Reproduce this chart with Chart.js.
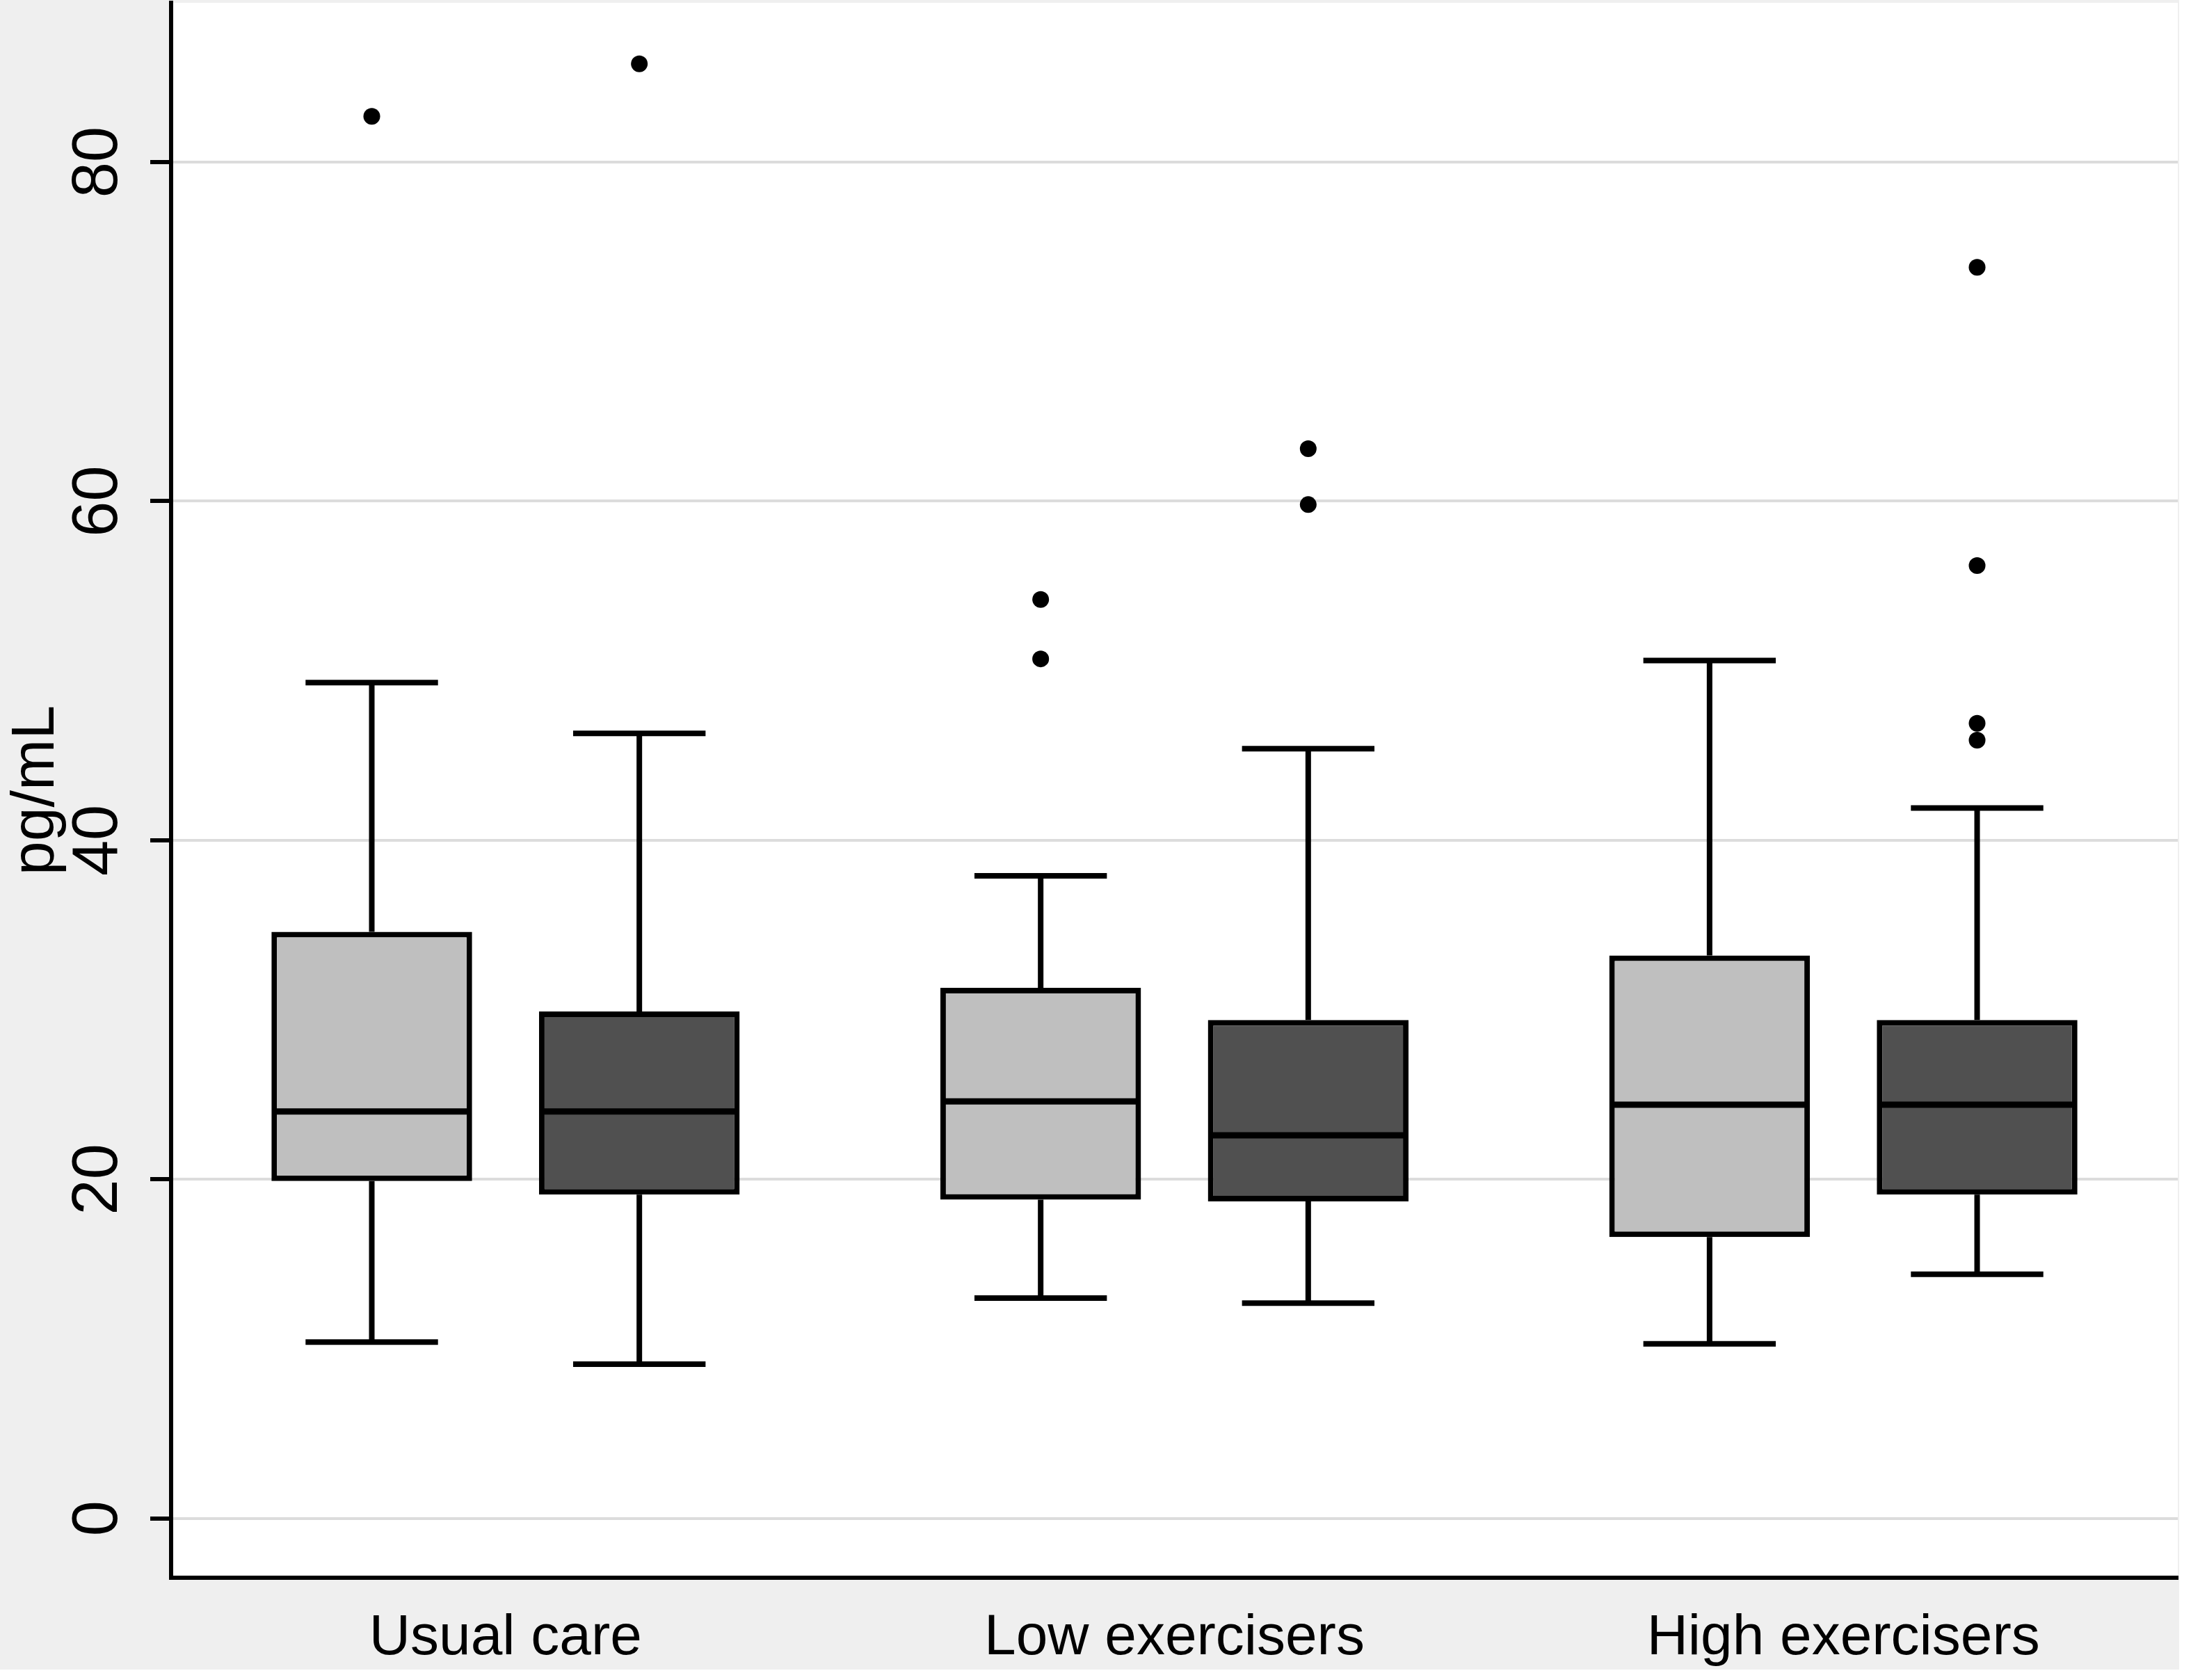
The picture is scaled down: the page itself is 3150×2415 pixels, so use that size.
<!DOCTYPE html>
<html>
<head>
<meta charset="utf-8">
<title>pg/mL box plot</title>
<script src="https://cdn.jsdelivr.net/npm/chart.js@4"></script>
<style>
    html, body { margin: 0; padding: 0; background: #ffffff; }
    #wrap { width: 3150px; height: 2415px; }
</style>
</head>
<body>
<div id="wrap"><canvas id="boxChart" width="3150" height="2415"></canvas></div>
<script>
// 分组与刻度
const groups = ['Usual care', 'Low exercisers', 'High exercisers'];
const yTicks = [0, 20, 40, 60, 80];

// 浅色箱体（每组左侧）
const lightLow = [10.4, 13.0, 10.3];
const lightQ1 = [19.9, 18.8, 16.6];
const lightMedian = [24.0, 24.6, 24.4];
const lightQ3 = [34.6, 31.3, 33.2];
const lightHigh = [49.3, 37.9, 50.6];
const lightOutliers = [[82.7], [54.2, 50.7], []];

// 深色箱体（每组右侧）
const darkLow = [9.1, 12.7, 14.4];
const darkQ1 = [19.1, 18.7, 19.1];
const darkMedian = [24.0, 22.6, 24.4];
const darkQ3 = [29.9, 29.4, 29.4];
const darkHigh = [46.3, 45.4, 41.9];
const darkOutliers = [[85.8], [63.1, 59.8], [73.8, 56.2, 46.9, 45.9]];

const FONT = "'Liberation Sans', Arial, Helvetica, sans-serif";

// 每个数据集对应的箱线统计
const boxStats = [
    { low: lightLow, median: lightMedian, high: lightHigh, outliers: lightOutliers },
    { low: darkLow, median: darkMedian, high: darkHigh, outliers: darkOutliers }
];

/**
 * 绘制背景、须线、中位线和离群点
 */
const boxPartsPlugin = {
    id: 'boxParts',
    beforeDraw(chart) {
        const ctx = chart.ctx;
        const a = chart.chartArea;
        ctx.save();
        ctx.fillStyle = '#ffffff';
        ctx.fillRect(0, 0, chart.width, chart.height);
        ctx.fillStyle = '#efefef';
        ctx.fillRect(0, 0, chart.width - 17, chart.height - 15);
        ctx.fillStyle = '#ffffff';
        ctx.fillRect(a.left, a.top, a.right - a.left, a.bottom - a.top);
        ctx.restore();
    },
    beforeDatasetsDraw(chart) {
        const ctx = chart.ctx;
        const yScale = chart.scales.y;
        ctx.save();
        ctx.strokeStyle = '#000000';
        ctx.lineWidth = 8;
        ctx.lineCap = 'butt';
        boxStats.forEach((st, i) => {
            const meta = chart.getDatasetMeta(i);
            meta.data.forEach((bar, j) => {
                const x = bar.x;
                const cap = bar.width * 0.66 / 2;
                const yLow = yScale.getPixelForValue(st.low[j]);
                const yHigh = yScale.getPixelForValue(st.high[j]);
                const yTop = Math.min(bar.y, bar.base);
                const yBot = Math.max(bar.y, bar.base);
                ctx.beginPath();
                ctx.moveTo(x, yHigh);
                ctx.lineTo(x, yTop);
                ctx.moveTo(x, yBot);
                ctx.lineTo(x, yLow);
                ctx.moveTo(x - cap, yHigh);
                ctx.lineTo(x + cap, yHigh);
                ctx.moveTo(x - cap, yLow);
                ctx.lineTo(x + cap, yLow);
                ctx.stroke();
            });
        });
        ctx.restore();
    },
    afterDatasetsDraw(chart) {
        const ctx = chart.ctx;
        const yScale = chart.scales.y;
        ctx.save();
        boxStats.forEach((st, i) => {
            const meta = chart.getDatasetMeta(i);
            meta.data.forEach((bar, j) => {
                const x = bar.x;
                const half = bar.width / 2;
                const yMed = yScale.getPixelForValue(st.median[j]);
                ctx.strokeStyle = '#000000';
                ctx.lineWidth = 9;
                ctx.beginPath();
                ctx.moveTo(x - half + 4, yMed);
                ctx.lineTo(x + half - 4, yMed);
                ctx.stroke();

                ctx.fillStyle = '#000000';
                st.outliers[j].forEach(v => {
                    ctx.beginPath();
                    ctx.arc(x, yScale.getPixelForValue(v), 12, 0, Math.PI * 2);
                    ctx.fill();
                });
            });
        });
        ctx.restore();
    }
};

document.addEventListener('DOMContentLoaded', function() {
    const ctx = document.getElementById('boxChart').getContext('2d');

    new Chart(ctx, {
        type: 'bar',
        data: {
            labels: groups,
            datasets: [
                {
                    label: 'light',
                    data: lightQ1.map((q1, i) => [q1, lightQ3[i]]),
                    backgroundColor: '#bfbfbf',
                    borderColor: '#000000',
                    borderWidth: 8,
                    borderSkipped: false
                },
                {
                    label: 'dark',
                    data: darkQ1.map((q1, i) => [q1, darkQ3[i]]),
                    backgroundColor: '#505050',
                    borderColor: '#000000',
                    borderWidth: 8,
                    borderSkipped: false
                }
            ]
        },
        options: {
            responsive: false,
            animation: false,
            devicePixelRatio: 1,
            events: [],
            categoryPercentage: 0.8,
            barPercentage: 0.75,
            layout: {
                padding: { top: 4, right: 19, left: 0, bottom: 0 }
            },
            plugins: {
                legend: { display: false },
                tooltip: { enabled: false }
            },
            scales: {
                x: {
                    afterFit: function(s) {
                        s.height = 147;
                        s.paddingLeft = 0;
                        s.paddingRight = 0;
                    },
                    grid: { display: false, drawTicks: false },
                    border: { display: true, color: '#000000', width: 6 },
                    ticks: {
                        padding: 38,
                        minRotation: 0,
                        maxRotation: 0,
                        color: '#000000',
                        font: { size: 82, family: FONT }
                    }
                },
                y: {
                    min: -3.5,
                    max: 89.4,
                    afterBuildTicks: function(s) {
                        s.ticks = yTicks.map(v => ({ value: v }));
                    },
                    afterFit: function(s) {
                        s.width = 246;
                        s.paddingTop = 0;
                        s.paddingBottom = 0;
                    },
                    grid: {
                        color: '#dcdcdc',
                        lineWidth: 4,
                        tickLength: 30,
                        tickColor: '#000000',
                        tickWidth: 6
                    },
                    border: { display: true, color: '#000000', width: 6 },
                    ticks: {
                        minRotation: 90,
                        maxRotation: 90,
                        crossAlign: 'center',
                        padding: 22,
                        color: '#000000',
                        font: { size: 92, family: FONT }
                    },
                    title: {
                        display: true,
                        text: 'pg/mL',
                        color: '#000000',
                        font: { size: 88, family: FONT },
                        padding: { top: 0, bottom: 0 }
                    }
                }
            }
        },
        plugins: [boxPartsPlugin]
    });
});
</script>
</body>
</html>
